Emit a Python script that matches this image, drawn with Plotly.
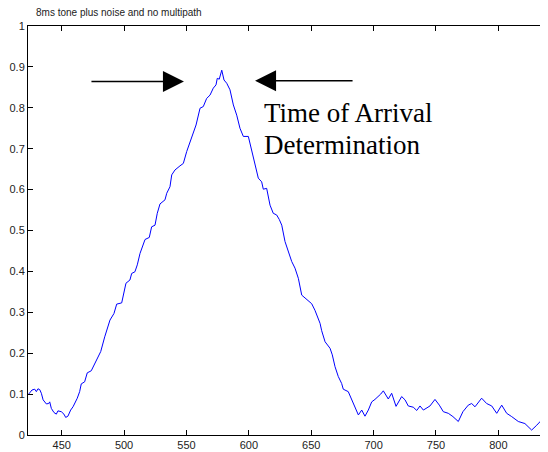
import plotly.graph_objects as go

sample_index = [423, 426.2, 428.4, 429.7, 431, 432.4, 433.7, 435.1, 437.7, 439.6, 440.4, 441.7,
                443.8, 445.7, 447, 449.7, 451.8, 453.2, 455, 457.2, 459.1, 460.4, 462.5, 464.4,
                465.7, 468.4, 470.5, 473.7, 476.5, 479.1, 481.3, 484.5,
                486.6, 488.7, 491.9, 494.1, 498.1, 501.5, 504.7, 506.1, 508.7, 510.6, 512.8,
                514.9, 516.8, 520.2, 522.1, 524.8, 526.6, 528.8, 532.8, 534.2, 536.8, 538.2,
                540.8, 544.8, 547.5, 550.2,
                554.2, 557.7, 560.9, 563.5, 566.2, 568.9, 571.5, 573.7, 574.7, 576.3, 578.3,
                580.1, 582.3, 584.9, 587.6, 590.3, 592.9, 595.6, 599.6, 602.3,
                604.9, 607.6, 610.3, 611.6, 614.3, 617, 619.6, 622.3, 624.4, 626.4, 629,
                631.6, 634.4, 637, 639.7, 642.4, 646.4, 650.4, 653, 655.2, 657.1, 658.4,
                661.1, 665.1, 666.9, 669.1, 671.7, 674.4, 675.7, 679.7, 682.5, 685.1, 687.8,
                690.5, 693.1, 695.8, 698.5, 701.1, 703.8, 705.7, 707.8, 710, 711.8, 714.5,
                718, 722.5, 725.2, 727.8, 731.8, 734.6, 737.2, 739.9, 742.6, 745.2,
                749.2, 752.7, 755.9, 759.9, 763.6, 767.9, 771.6, 775.9, 778.6, 781.3, 786.6,
                790.6, 794.7, 798.7, 802.7, 806.7, 810.7, 816, 821.3, 826.7, 830.8, 834.8, 838.8]

correlation = [0.098, 0.11, 0.112, 0.106, 0.113, 0.111, 0.102, 0.086, 0.076, 0.077, 0.081, 0.065,
               0.055, 0.051, 0.059, 0.057, 0.051, 0.043, 0.046, 0.061, 0.069, 0.077, 0.09, 0.106,
               0.125, 0.13, 0.152, 0.157, 0.175, 0.191, 0.204, 0.24,
               0.258, 0.281, 0.297, 0.32, 0.323, 0.371, 0.379, 0.395, 0.399, 0.416, 0.444,
               0.46, 0.478, 0.483, 0.509, 0.513, 0.542, 0.565, 0.575, 0.591, 0.607, 0.636,
               0.648, 0.658, 0.664, 0.693,
               0.725, 0.758, 0.799, 0.803, 0.823, 0.831, 0.848, 0.856, 0.872, 0.87, 0.892,
               0.868, 0.86, 0.844, 0.807, 0.782, 0.75, 0.73, 0.73, 0.695,
               0.656, 0.628, 0.619, 0.601, 0.603, 0.562, 0.542, 0.538, 0.527, 0.513, 0.473,
               0.448, 0.424, 0.408, 0.383, 0.342, 0.332, 0.321, 0.305, 0.285, 0.273, 0.255,
               0.228, 0.212, 0.196, 0.167, 0.143, 0.126, 0.112, 0.106, 0.086, 0.069, 0.049,
               0.061, 0.046, 0.061, 0.081, 0.087, 0.094, 0.1, 0.108, 0.098, 0.088, 0.102,
               0.07, 0.094, 0.086, 0.071, 0.068, 0.06, 0.071, 0.061, 0.067, 0.071,
               0.087, 0.073, 0.057, 0.053, 0.045, 0.033, 0.057, 0.073, 0.077, 0.069, 0.09,
               0.077, 0.071, 0.053, 0.073, 0.053, 0.045, 0.033, 0.028, 0.012, 0.024, 0.037, 0.028]

x_ticks = [450, 500, 550, 600, 650, 700, 750, 800]
y_ticks = [0, 0.1, 0.2, 0.3, 0.4, 0.5, 0.6, 0.7, 0.8, 0.9, 1]
y_tick_text = ["0", "0.1", "0.2", "0.3", "0.4", "0.5", "0.6", "0.7", "0.8", "0.9", "1"]

title_text = "8ms tone plus noise and no multipath"
note_line1 = "Time of Arrival"
note_line2 = "Determination"

# the page body has an 8px default margin, so the figure is 8px smaller on each axis
W, H = 540, 444

fig = go.Figure()
fig.add_trace(go.Scatter(x=sample_index, y=correlation, mode="lines",
                         line=dict(color="#0000ff", width=1), showlegend=False))

axis_common = dict(showgrid=False, zeroline=False, showline=True, linecolor="black",
                   linewidth=1, mirror="ticks", ticks="inside", ticklen=5, automargin=False,
                   tickcolor="black", tickfont=dict(family="Arial, Liberation Sans", size=11,
                                                    color="#222"))

fig.update_xaxes(range=[423, 839], tickvals=x_ticks, **axis_common)
fig.update_yaxes(range=[0, 1], tickvals=y_ticks, ticktext=y_tick_text, **axis_common)

note_font = dict(family="Times New Roman, Liberation Serif", size=27, color="black")

fig.update_layout(
    width=W, height=H,
    margin=dict(l=20, r=1, t=18, b=17),
    paper_bgcolor="white", plot_bgcolor="white",
    title=dict(text=title_text, xref="container", yref="container",
               x=28 / W, xanchor="left", y=1 - 4 / H, yanchor="middle",
               font=dict(family="Arial, Liberation Sans", size=10, color="#222")),
    annotations=[
        dict(x=548, y=0.864, xref="x", yref="y", ax=-94, ay=0,
             showarrow=True, arrowhead=2, arrowsize=2.8, arrowwidth=1.5, arrowcolor="black",
             text=""),
        dict(x=605, y=0.866, xref="x", yref="y", ax=99, ay=0,
             showarrow=True, arrowhead=2, arrowsize=2.8, arrowwidth=1.5, arrowcolor="black",
             text=""),
        dict(x=610.5, y=0.787, xref="x", yref="y", xanchor="left", yanchor="middle",
             showarrow=False, align="left", text=note_line1, font=note_font),
        dict(x=610.5, y=0.709, xref="x", yref="y", xanchor="left", yanchor="middle",
             showarrow=False, align="left", text=note_line2, font=note_font),
    ],
)

fig.write_html("out.html")
